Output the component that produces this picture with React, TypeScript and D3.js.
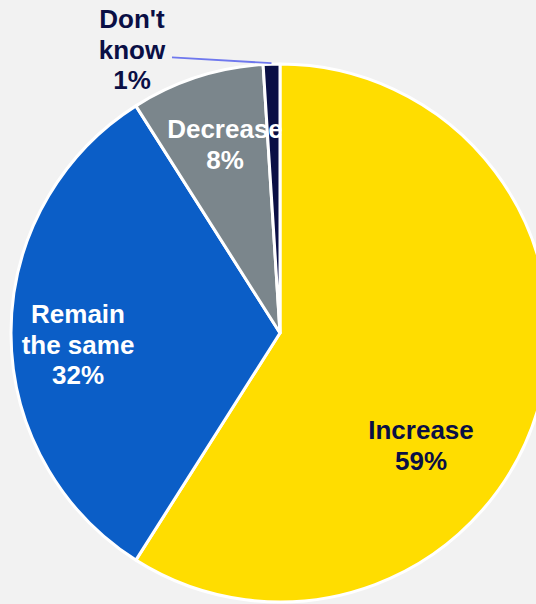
import React from "react";
import * as d3 from "d3";

const categories = ["Increase", "Remain the same", "Decrease", "Don't know"];
const values = [59, 32, 8, 1];
const colors = ["#FFDD00", "#0B5EC7", "#7B868C", "#0A0F45"];
const labelLines = [["Increase", "59%"], ["Remain", "the same", "32%"], ["Decrease", "8%"], ["Don't", "know", "1%"]];
const labelColors = ["#0A0F45", "#FFFFFF", "#FFFFFF", "#0A0F45"];
// label anchor positions (center x, first baseline y)
const labelPos: [number, number][] = [[421, 439], [78, 323], [225, 138], [132, 28]];

const W = 536, H = 604;
const cx = 280, cy = 333, R = 269;

export default function App() {
  const pie = d3.pie<number>().sort(null).value((d) => d)(values);
  const arc = d3.arc<d3.PieArcDatum<number>>().innerRadius(0).outerRadius(R);
  const lineH = 30.5;
  // leader line for "Don't know"
  const dk = pie[3];
  const midA = (dk.startAngle + dk.endAngle) / 2;
  const lx2 = cx + Math.sin(midA) * (R + 1);
  const ly2 = cy - Math.cos(midA) * (R + 1);
  return (
    <svg width={W} height={H} style={{ position: "absolute", left: 0, top: 0, background: "#F2F2F2" }}
      fontFamily="'Liberation Sans', Arial, sans-serif">
      <rect x={0} y={0} width={W} height={H} fill="#F2F2F2" />
      <g transform={`translate(${cx},${cy})`}>
        {pie.map((p, i) => (
          <path key={categories[i]} d={arc(p) || ""} fill={colors[i]} stroke="#FFFFFF" strokeWidth={3} strokeLinejoin="round" />
        ))}
      </g>
      <line x1={172} y1={57.3} x2={lx2} y2={ly2} stroke="#6F78EE" strokeWidth={1.8} />
      {labelLines.map((lines, i) => (
        <text key={categories[i]} x={labelPos[i][0]} y={labelPos[i][1]} textAnchor="middle"
          fontSize={26} fontWeight="bold" fill={labelColors[i]}>
          {lines.map((t, j) => (
            <tspan key={j} x={labelPos[i][0]} y={labelPos[i][1] + j * lineH}>{t}</tspan>
          ))}
        </text>
      ))}
    </svg>
  );
}
